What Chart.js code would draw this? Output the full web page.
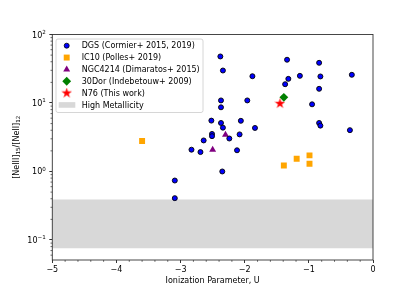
<!DOCTYPE html>
<html>
<head>
<meta charset="utf-8">
<script src="https://cdn.jsdelivr.net/npm/chart.js@4"></script>
<style>
html, body { margin: 0; padding: 0; background: #fff; }
</style>
</head>
<body>
<canvas id="chart" width="415" height="293"></canvas>
<script>
// values
const dgsU = [-2.38, -2.34, -1.88, -1.34, -0.84, -1.32, -1.37, -1.14, -0.82, -0.33, -0.84,
              -2.37, -1.96, -2.37, -0.95, -2.52, -2.37, -2.34, -2.06, -1.84, -0.84, -0.82,
              -0.36, -2.51, -2.51, -2.64, -2.24, -2.08, -2.12, -2.83, -2.69, -2.35, -3.09, -3.09];
const dgsRatio = [47.8, 29.8, 24.6, 42.8, 38.6, 22.5, 18.8, 24.9, 24.4, 25.8, 16.1,
                  10.9, 10.9, 8.65, 9.57, 5.53, 5.11, 4.36, 5.49, 4.32, 5.11, 4.67,
                  4.01, 3.53, 3.28, 2.84, 3.03, 3.48, 2.04, 2.08, 1.92, 1.0, 0.738, 0.408];

const ic10U = [-3.60, -1.39, -1.19, -0.99, -0.99];
const ic10Ratio = [2.79, 1.22, 1.53, 1.72, 1.30];

const ngcU = [-2.30, -2.50];
const ngcRatio = [3.45, 2.08];

const dorU = [-1.39];
const dorRatio = [12.1];

const n76U = [-1.45];
const n76Ratio = [9.8];

const bandLow = 0.076;
const bandHigh = 0.39;

const xTicks = [-5, -4, -3, -2, -1, 0];
const yTicks = [0.1, 1, 10, 100];
const yTickExp = ['\u22121', '0', '1', '2'];

const labels = ['DGS (Cormier+ 2015, 2019)', 'IC10 (Polles+ 2019)', 'NGC4214 (Dimaratos+ 2015)',
                '30Dor (Indebetouw+ 2009)', 'N76 (This work)', 'High Metallicity'];

function pts(xs, ys) {
    return xs.map((x, i) => ({ x: x, y: ys[i] }));
}

function makeStar(size, color) {
    const c = document.createElement('canvas');
    c.width = size; c.height = size;
    const g = c.getContext('2d');
    const cx = size / 2, cy = size / 2, R = size / 2, r = R * 0.382;
    g.beginPath();
    for (let i = 0; i < 10; i++) {
        const a = -Math.PI / 2 + i * Math.PI / 5;
        const rad = i % 2 ? r : R;
        g.lineTo(cx + rad * Math.cos(a), cy + rad * Math.sin(a));
    }
    g.closePath();
    g.fillStyle = color;
    g.fill();
    return c;
}

const starImg = makeStar(11, '#ff0000');

const FONT = '"DejaVu Sans", sans-serif';
Chart.defaults.font.family = FONT;
Chart.defaults.font.size = 8;
Chart.defaults.color = '#000';

// frame, minor ticks, y labels with super/subscripts and legend box, drawn like matplotlib
const decorPlugin = {
    id: 'decor',
    afterDraw(chart) {
        const ctx = chart.ctx;
        const a = chart.chartArea;
        const xs = chart.scales.x, ys = chart.scales.y;
        ctx.save();

        // minor ticks
        ctx.strokeStyle = '#000';
        ctx.lineWidth = 0.6;
        ctx.beginPath();
        for (let v = -5; v < 0; v++) {
            for (let k = 1; k < 5; k++) {
                const px = xs.getPixelForValue(v + k * 0.2);
                ctx.moveTo(px, a.bottom);
                ctx.lineTo(px, a.bottom + 1.8);
            }
        }
        for (let d = 0.01; d < 100; d *= 10) {
            for (let k = 2; k < 10; k++) {
                const val = d * k;
                if (val < ys.min || val > ys.max) continue;
                const py = ys.getPixelForValue(val);
                ctx.moveTo(a.left, py);
                ctx.lineTo(a.left - 1.8, py);
            }
        }
        ctx.stroke();

        // frame
        ctx.strokeStyle = '#333';
        ctx.lineWidth = 0.9;
        ctx.strokeRect(a.left, a.top, a.right - a.left, a.bottom - a.top);

        // y tick labels: 10 with exponent
        ctx.fillStyle = '#000';
        ctx.textBaseline = 'alphabetic';
        ctx.textAlign = 'left';
        yTicks.forEach((v, i) => {
            const py = ys.getPixelForValue(v);
            ctx.font = '5.6px ' + FONT;
            const ew = ctx.measureText(yTickExp[i]).width;
            ctx.font = '8px ' + FONT;
            const bw = ctx.measureText('10').width;
            const right = a.left - 6.5;
            ctx.fillText('10', right - ew - bw, py + 3);
            ctx.font = '5.6px ' + FONT;
            ctx.fillText(yTickExp[i], right - ew, py - 0.8);
        });

        // y title: [NeIII]_15/[NeII]_12
        const parts = [['[NeIII]', 8, 0], ['15', 5.6, 1.6], ['/[NeII]', 8, 0], ['12', 5.6, 1.6]];
        let total = 0;
        parts.forEach(p => { ctx.font = p[1] + 'px ' + FONT; p.push(ctx.measureText(p[0]).width); total += p[3]; });
        ctx.translate(15.5, (a.top + a.bottom) / 2);
        ctx.rotate(-Math.PI / 2);
        let cx = -total / 2;
        parts.forEach(p => {
            ctx.font = p[1] + 'px ' + FONT;
            ctx.fillText(p[0], cx, 3 + p[2]);
            cx += p[3];
        });
        ctx.setTransform(1, 0, 0, 1, 0, 0);

        // legend
        const bx = 56, by = 39, bw = 147, bh = 73.5;
        ctx.beginPath();
        ctx.roundRect(bx, by, bw, bh, 2);
        ctx.fillStyle = 'rgba(255,255,255,0.8)';
        ctx.fill();
        ctx.strokeStyle = '#cccccc';
        ctx.lineWidth = 0.8;
        ctx.stroke();

        ctx.font = '8px ' + FONT;
        ctx.textBaseline = 'middle';
        ctx.textAlign = 'left';
        const sets = chart.data.datasets.filter(ds => ds.label && !ds.isBand);
        sets.forEach((ds, i) => {
            const y = 45.7 + i * 11.85;
            ctx.fillStyle = ds.backgroundColor;
            ctx.strokeStyle = ds.borderColor || ds.backgroundColor;
            Chart.helpers.drawPoint(ctx, {
                pointStyle: ds.pointStyle,
                radius: ds.pointRadius,
                borderWidth: ds.borderWidth || 0,
                rotation: 0
            }, 66.7, y);
            ctx.fillStyle = '#000';
            ctx.fillText(ds.label, 81.7, y + 0.5);
        });
        const yb = 45.7 + 5 * 11.85;
        ctx.fillStyle = '#d8d8d8';
        ctx.fillRect(58.7, yb - 2.8, 16.6, 5.6);
        ctx.fillStyle = '#000';
        ctx.fillText(labels[5], 81.7, yb + 0.5);

        ctx.restore();
    }
};

new Chart(document.getElementById('chart'), {
    type: 'scatter',
    data: {
        datasets: [
            {
                label: labels[0],
                data: pts(dgsU, dgsRatio),
                backgroundColor: '#0000ff',
                borderColor: '#000',
                borderWidth: 0.9,
                pointStyle: 'circle',
                pointRadius: 2.5,
                order: 0
            },
            {
                label: labels[1],
                data: pts(ic10U, ic10Ratio),
                backgroundColor: '#ffa500',
                borderColor: '#ffa500',
                borderWidth: 0,
                pointStyle: 'rect',
                pointRadius: 4.2,
                order: 0
            },
            {
                label: labels[2],
                data: pts(ngcU, ngcRatio),
                backgroundColor: '#800080',
                borderColor: '#800080',
                borderWidth: 0,
                pointStyle: 'triangle',
                pointRadius: 4,
                order: 0
            },
            {
                label: labels[3],
                data: pts(dorU, dorRatio),
                backgroundColor: '#008000',
                borderColor: '#008000',
                borderWidth: 0,
                pointStyle: 'rectRot',
                pointRadius: 4.4,
                order: 0
            },
            {
                label: labels[4],
                data: pts(n76U, n76Ratio),
                backgroundColor: '#ff0000',
                borderColor: '#ff0000',
                borderWidth: 0,
                pointStyle: starImg,
                pointRadius: 5.5,
                order: 0
            },
            {
                type: 'line',
                isBand: true,
                data: [{ x: -5, y: bandHigh }, { x: 0, y: bandHigh }],
                backgroundColor: '#d8d8d8',
                borderWidth: 0,
                pointRadius: 0,
                fill: '+1',
                order: 5
            },
            {
                type: 'line',
                isBand: true,
                data: [{ x: -5, y: bandLow }, { x: 0, y: bandLow }],
                borderWidth: 0,
                pointRadius: 0,
                fill: false,
                order: 6
            }
        ]
    },
    options: {
        responsive: false,
        animation: false,
        devicePixelRatio: 1,
        layout: { padding: { left: 0, right: 42, top: 34.5, bottom: 0 } },
        plugins: {
            legend: { display: false },
            tooltip: { enabled: false }
        },
        scales: {
            x: {
                type: 'linear',
                position: 'bottom',
                min: -5,
                max: 0,
                afterBuildTicks: s => { s.ticks = xTicks.map(v => ({ value: v })); },
                afterFit: s => { s.height = 33; },
                ticks: {
                    autoSkip: false,
                    maxRotation: 0,
                    padding: 2,
                    color: '#000',
                    callback: v => v === 0 ? '0' : '\u2212' + Math.abs(v)
                },
                grid: { display: true, drawOnChartArea: false, drawTicks: true, tickLength: 3, color: '#000', lineWidth: 0.8 },
                border: { display: false },
                title: {
                    display: true,
                    text: 'Ionization Parameter, U',
                    color: '#000',
                    font: { size: 8 },
                    padding: { top: 0, bottom: 7 }
                }
            },
            y: {
                type: 'logarithmic',
                min: 0.051,
                max: 100,
                afterBuildTicks: s => { s.ticks = yTicks.map(v => ({ value: v })); },
                afterFit: s => { s.width = 52.3; },
                ticks: { display: false, autoSkip: false },
                grid: { display: true, drawOnChartArea: false, drawTicks: true, tickLength: 3, color: '#000', lineWidth: 0.8 },
                border: { display: false },
                title: { display: false }
            }
        }
    },
    plugins: [decorPlugin]
});
</script>
</body>
</html>
